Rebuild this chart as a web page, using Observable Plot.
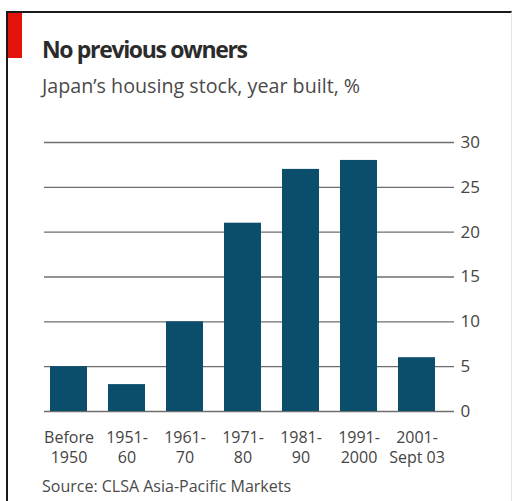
<!DOCTYPE html>
<html>
<head>
<meta charset="utf-8">
<script src="https://cdn.jsdelivr.net/npm/d3@7"></script>
<script src="https://cdn.jsdelivr.net/npm/@observablehq/plot@0.6"></script>
<style>
  html, body { margin: 0; padding: 0; background: #fff; }
  body { width: 514px; height: 501px; position: relative; overflow: hidden; font-family: "Open Sans", sans-serif; }
  #frame { position: absolute; left: 6px; top: 11px; width: 506px; height: 495px; border-top: 2.5px solid #1a1a1a; border-left: 2px solid #1a1a1a; border-right: 1px solid #e4e4e4; box-sizing: border-box; }
  #red { position: absolute; left: 8px; top: 13px; width: 14px; height: 45px; background: #e3120b; }
  #title { position: absolute; left: 42px; top: 34px; font-size: 23px; font-weight: 700; color: #2b2b2b; line-height: 30px; white-space: nowrap; letter-spacing: -1.35px; }
  #subtitle { position: absolute; left: 42px; top: 74px; font-size: 19.7px; color: #4a4a4a; line-height: 24px; white-space: nowrap; }
  #chart { position: absolute; left: 0; top: 120px; }
  #source { position: absolute; left: 42px; top: 476px; font-size: 16px; color: #4a4a4a; line-height: 20px; white-space: nowrap; }
</style>
</head>
<body>
<div id="frame"></div>
<div id="red"></div>
<div id="title">No previous owners</div>
<div id="subtitle">Japan’s housing stock, year built, %</div>
<div id="chart"></div>
<div id="source">Source: CLSA Asia-Pacific Markets</div>
<script>
const periods = ["Before\n1950", "1951-\n60", "1961-\n70", "1971-\n80", "1981-\n90", "1991-\n2000", "2001-\nSept 03"];
const shares = [5, 3, 10, 21, 27, 28, 6];
const yTicks = [0, 5, 10, 15, 20, 25, 30];

const data = periods.map((p, i) => ({period: p, share: shares[i]}));

const chart = Plot.plot({
  width: 514,
  height: 355,
  marginLeft: 44,
  marginRight: 60,
  marginTop: 22,
  marginBottom: 64,
  style: {fontFamily: "Open Sans, sans-serif", fontSize: "16px", color: "#444", background: "transparent"},
  x: {domain: periods, range: [38, 448], paddingInner: 0.36, paddingOuter: 0.18},
  y: {domain: [0, 30]},
  marks: [
    Plot.ruleY(yTicks, {stroke: "#6e6e6e", strokeWidth: 1.4}),
    Plot.barY(data, {x: "period", y: "share", fill: "#0b4e6c"}),
    Plot.axisY(yTicks, {anchor: "right", tickSize: 0, tickPadding: 6, fontSize: 17, fill: "#444", label: null}),
    Plot.axisX({tickSize: 0, tickPadding: 17, fontSize: 16, lineHeight: 1.25, fill: "#444", label: null})
  ]
});
document.getElementById("chart").appendChild(chart);
</script>
</body>
</html>
